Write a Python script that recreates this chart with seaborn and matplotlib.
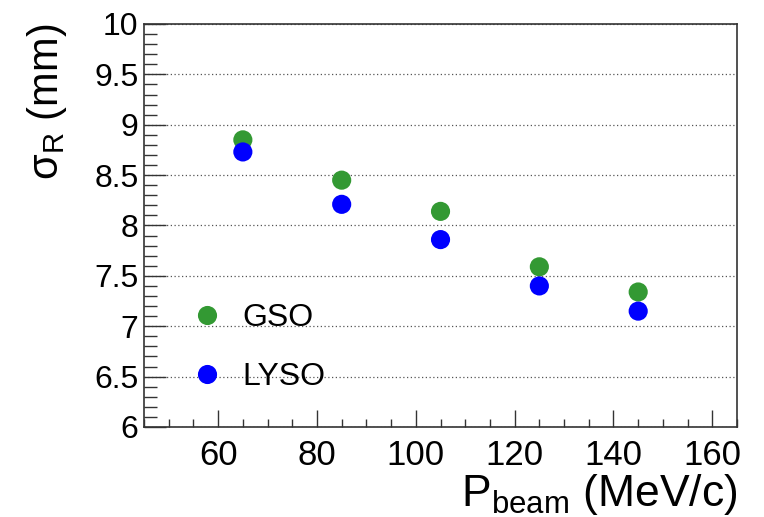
import numpy as np
import pandas as pd
import matplotlib
matplotlib.use('Agg')
import matplotlib.pyplot as plt
import seaborn as sns
from matplotlib.ticker import MultipleLocator

# beam momentum (MeV/c) and position resolution (mm)
p_beam = [65, 85, 105, 125, 145]
sigma_gso = [8.85, 8.45, 8.14, 7.59, 7.34]
sigma_lyso = [8.73, 8.21, 7.86, 7.40, 7.15]
crystals = ['GSO', 'LYSO']

df = pd.DataFrame({
    'p': p_beam * 2,
    'sigma': sigma_gso + sigma_lyso,
    'crystal': ['GSO'] * len(p_beam) + ['LYSO'] * len(p_beam),
})

sns.set_style('ticks')
plt.rcParams['font.family'] = ['Liberation Sans', 'DejaVu Sans']
plt.rcParams['mathtext.fontset'] = 'custom'
plt.rcParams['mathtext.rm'] = 'Liberation Sans'
plt.rcParams['text.color'] = 'black'
plt.rcParams['axes.labelcolor'] = 'black'
plt.rcParams['xtick.labelcolor'] = 'black'
plt.rcParams['ytick.labelcolor'] = 'black'

fig = plt.figure(figsize=(7.64, 5.17), dpi=100)
ax = fig.add_axes([0.1885, 0.1741, 0.7762, 0.7795])

sns.scatterplot(data=df, x='p', y='sigma', hue='crystal', hue_order=crystals,
                palette={'GSO': '#339933', 'LYSO': '#0000ff'},
                s=190, edgecolor='none', ax=ax, zorder=3)

ax.set_xlim(45, 165)
ax.set_ylim(6, 10)
ax.xaxis.set_minor_locator(MultipleLocator(5))
ax.yaxis.set_minor_locator(MultipleLocator(0.1))
ax.set_xticks([60, 80, 100, 120, 140, 160])
ax.set_yticks([6, 6.5, 7, 7.5, 8, 8.5, 9, 9.5, 10])
ax.set_yticklabels(['6', '6.5', '7', '7.5', '8', '8.5', '9', '9.5', '10'])

ax.tick_params(axis='both', which='both', direction='in',
               top=False, right=False, color='#333333', width=1)
ax.tick_params(axis='x', which='major', length=12, pad=9, labelsize=25)
ax.tick_params(axis='x', which='minor', length=6)
ax.tick_params(axis='y', which='major', length=16, pad=4, labelsize=23)
ax.tick_params(axis='y', which='minor', length=9)

ax.yaxis.grid(True, which='major', linestyle=(0, (1, 2)), color='#555555', linewidth=0.9)
for sp in ax.spines.values():
    sp.set_color('#333333')
    sp.set_linewidth(1.2)

ax.set_xlabel(r'P$_{\mathregular{beam}}$ (MeV/c)', fontsize=32, loc='right', labelpad=0)
ax.set_ylabel(r'σ$_{\mathregular{R}}$ (mm)', fontsize=30, loc='top', labelpad=18)

handles, labels = ax.get_legend_handles_labels()
ax.legend(handles, labels, loc='center left', bbox_to_anchor=(0.08, 0.197),
          frameon=False, fontsize=23, handlelength=1.0, handletextpad=0.6,
          labelspacing=0.9, borderpad=0, borderaxespad=0, markerscale=1.0)

fig.savefig('out.png', dpi=100)
